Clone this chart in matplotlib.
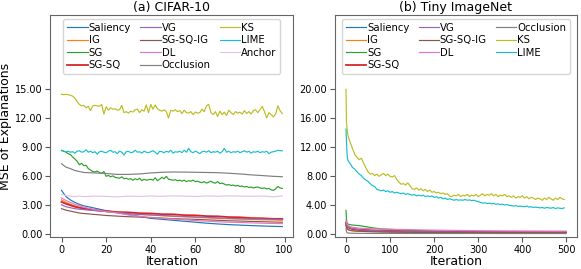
import numpy as np
import matplotlib
matplotlib.use("Agg")
import matplotlib.pyplot as plt

# ---------------- CIFAR-10 ----------------
it_c = np.arange(100)
it_c_s = [0, 2, 4, 6, 8, 10, 15, 20, 25, 30, 35, 40, 45, 50, 55, 60, 65, 70, 75, 80, 85, 90, 95, 99]

c_saliency = [4.55, 3.9, 3.55, 3.3, 3.1, 2.95, 2.7, 2.45, 2.25, 2.05, 1.85, 1.65, 1.55, 1.45, 1.35, 1.25,
              1.15, 1.07, 1.0, 0.95, 0.9, 0.86, 0.82, 0.8]
c_ig = [3.55, 3.3, 3.1, 2.95, 2.8, 2.7, 2.5, 2.35, 2.25, 2.15, 2.05, 2.0, 1.92, 1.85, 1.8, 1.75,
        1.7, 1.65, 1.6, 1.57, 1.53, 1.5, 1.48, 1.45]
c_sgsq = [3.35, 3.15, 3.0, 2.85, 2.75, 2.65, 2.5, 2.4, 2.3, 2.27, 2.18, 2.16, 2.08, 2.07, 1.98, 1.96,
          1.88, 1.86, 1.78, 1.76, 1.68, 1.66, 1.6, 1.6]
c_vg = [3.05, 2.85, 2.75, 2.65, 2.6, 2.55, 2.45, 2.35, 2.25, 2.15, 2.05, 2.0, 1.95, 1.9, 1.85, 1.8,
        1.75, 1.7, 1.65, 1.62, 1.6, 1.58, 1.55, 1.52]
c_sgsqig = [2.65, 2.5, 2.4, 2.3, 2.2, 2.15, 2.05, 1.95, 1.88, 1.82, 1.78, 1.72, 1.68, 1.62, 1.58, 1.55,
            1.5, 1.45, 1.4, 1.37, 1.33, 1.3, 1.27, 1.25]
c_dl = [3.75, 3.5, 3.3, 3.1, 2.95, 2.8, 2.55, 2.35, 2.2, 2.0, 1.85, 1.75, 1.65, 1.58, 1.5, 1.42,
        1.36, 1.3, 1.25, 1.22, 1.18, 1.15, 1.12, 1.1]
c_occlusion = [7.3, 6.95, 6.8, 6.6, 6.5, 6.4, 6.35, 6.3, 6.2, 6.2, 6.25, 6.35, 6.42, 6.45, 6.44, 6.42,
               6.4, 6.38, 6.32, 6.25, 6.15, 6.08, 6.0, 5.96]
c_anchor = [4.15, 4.0, 3.95, 3.9, 3.95, 3.9, 3.95, 3.92, 3.88, 3.95, 3.92, 3.97, 3.93, 3.98, 3.95, 3.92,
            3.97, 3.94, 3.98, 3.95, 3.93, 3.96, 3.88, 3.97]

c_sg = [8.7, 8.6, 8.5, 8.35, 8.25, 8.0, 7.8, 7.55, 7.2, 7.35,
        7.1, 7.15, 6.8, 6.65, 6.5, 6.45, 6.55, 6.4, 6.3, 6.5,
        6.0, 6.1, 5.95, 6.05, 5.9, 5.85, 5.8, 5.95, 5.75, 5.8,
        5.7, 5.75, 5.6, 5.75, 5.65, 5.8, 5.55, 5.7, 5.6, 5.65,
        5.7, 5.6, 5.85, 5.55, 5.7, 5.9, 5.75, 6.0, 5.7, 5.65,
        5.6, 5.65, 5.55, 5.6, 5.5, 5.6, 5.45, 5.55, 5.5, 5.6,
        5.45, 5.5, 5.4, 5.35, 5.45, 5.3, 5.4, 5.5, 5.35, 5.3,
        5.45, 5.25, 5.3, 5.2, 5.1, 5.15, 5.05, 5.1, 5.0, 5.05,
        4.95, 5.0, 4.9, 4.95, 4.85, 4.9, 4.8, 4.85, 4.9, 4.8,
        4.75, 4.8, 4.7, 4.75, 4.6, 4.55, 4.7, 4.95, 4.8, 4.75]
c_lime = [8.65, 8.6, 8.55, 8.6, 8.5, 8.55, 8.4, 8.6, 8.65, 8.5,
          8.55, 8.75, 8.5, 8.6, 8.45, 8.55, 8.3, 8.55, 8.6, 8.5,
          8.45, 8.6, 8.7, 8.5, 8.55, 8.35, 8.6, 8.5, 8.2, 8.55,
          8.6, 8.45, 8.5, 8.7, 8.5, 8.55, 8.4, 8.6, 8.5, 8.45,
          8.55, 8.65, 8.5, 8.3, 8.6, 8.55, 8.45, 8.6, 8.5, 8.7,
          8.4, 8.55, 8.5, 8.6, 8.45, 8.7, 8.5, 8.9, 8.55, 8.45,
          8.6, 8.5, 8.35, 8.55, 8.6, 8.5, 8.65, 8.45, 8.55, 8.5,
          8.6, 8.4, 8.55, 8.9, 8.5, 8.6, 8.45, 8.55, 8.5, 8.6,
          8.45, 8.55, 8.65, 8.5, 8.6, 8.4, 8.55, 8.5, 8.6, 8.45,
          8.55, 8.5, 8.6, 8.35, 8.5, 8.55, 8.6, 8.7, 8.65, 8.65]
c_ks = [14.5, 14.45, 14.5, 14.45, 14.4, 14.3, 14.1, 13.75, 13.45, 13.3,
        13.35, 13.1, 13.25, 12.8, 13.3, 13.35, 13.3, 13.25, 13.45, 12.45,
        13.2, 12.85, 13.1, 12.95, 13.0, 12.85, 12.9, 13.35, 12.6, 12.7,
        12.55, 12.75, 12.65, 12.9, 12.95, 12.6, 12.9, 12.75, 13.4, 12.6,
        13.45, 12.95, 13.4, 13.0, 12.85, 12.75, 12.9, 12.7, 12.05, 12.85,
        12.75, 12.9, 12.7, 12.8, 12.5, 12.85, 12.6, 12.55, 12.7, 12.4,
        12.65, 12.55, 12.6, 12.95, 12.7, 13.3, 13.45, 12.6, 12.4, 12.7,
        12.2, 12.75, 12.4, 12.65, 12.3, 12.85, 12.6, 12.4, 12.7, 12.55,
        12.65, 12.45, 12.8, 12.5, 12.7, 12.45, 12.8, 12.9, 12.6, 12.9,
        13.25, 12.7, 12.05, 12.6, 12.4, 12.15, 12.45, 13.3, 12.8, 12.5]

# ---------------- Tiny ImageNet ----------------
it_t = np.concatenate([np.arange(0, 5), np.arange(5, 500, 5)])
it_t_s = [0, 1, 2, 3, 5, 8, 12, 20, 30, 45, 60, 80, 100, 130, 160, 200, 250, 300, 350, 400, 450, 499]

t_saliency = [1.7, 1.4, 1.2, 1.1, 0.95, 0.85, 0.75, 0.65, 0.55, 0.48, 0.42, 0.38, 0.35, 0.32, 0.3,
              0.28, 0.26, 0.25, 0.24, 0.23, 0.22, 0.22]
t_ig = [1.3, 1.0, 0.8, 0.7, 0.6, 0.55, 0.5, 0.45, 0.42, 0.4, 0.38, 0.36, 0.35, 0.33, 0.32,
        0.3, 0.29, 0.28, 0.27, 0.26, 0.26, 0.25]
t_sg = [3.3, 2.2, 1.7, 1.5, 1.4, 1.35, 1.3, 1.25, 1.2, 1.05, 0.9, 0.75, 0.68, 0.6, 0.52,
        0.45, 0.38, 0.33, 0.3, 0.28, 0.26, 0.25]
t_sgsq = [1.5, 1.3, 1.15, 1.05, 0.95, 0.88, 0.8, 0.72, 0.65, 0.6, 0.55, 0.5, 0.47, 0.43, 0.4,
          0.37, 0.34, 0.32, 0.31, 0.3, 0.29, 0.29]
t_vg = [1.6, 1.35, 1.2, 1.1, 1.0, 0.9, 0.82, 0.72, 0.65, 0.58, 0.53, 0.48, 0.45, 0.41, 0.38,
        0.35, 0.33, 0.31, 0.3, 0.29, 0.28, 0.28]
t_sgsqig = [1.2, 1.0, 0.85, 0.75, 0.65, 0.58, 0.52, 0.46, 0.42, 0.38, 0.35, 0.32, 0.3, 0.28, 0.27,
            0.26, 0.25, 0.24, 0.23, 0.23, 0.22, 0.22]
t_dl = [2.0, 1.7, 1.5, 1.35, 1.2, 1.1, 1.0, 0.92, 0.85, 0.8, 0.75, 0.72, 0.7, 0.66, 0.62,
        0.58, 0.54, 0.5, 0.48, 0.46, 0.45, 0.44]
t_occlusion = [0.8, 0.4, 0.25, 0.2, 0.18, 0.16, 0.15, 0.14, 0.13, 0.13, 0.12, 0.12, 0.12, 0.12, 0.11,
               0.11, 0.11, 0.11, 0.1, 0.1, 0.1, 0.1]

t_ks = [20.0, 15.5, 14.8, 14.2, 13.8,
        13.5, 12.6, 11.8, 11.0, 10.6, 10.3, 10.5, 9.8, 9.2, 8.6,
        8.3, 8.4, 8.1, 8.3, 8.0, 8.2, 8.4, 8.1, 8.3, 8.0,
        7.9, 8.1, 7.6, 7.2, 6.9, 7.0, 6.8, 7.1, 6.7, 6.3,
        6.2, 6.4, 6.1, 6.3, 6.0, 6.2, 5.9, 6.1, 5.8, 5.9,
        5.7, 5.8, 5.6, 5.7, 5.5, 5.6, 5.3, 5.2, 5.4, 5.3,
        5.5, 5.2, 5.4, 5.3, 5.5, 5.2, 5.4, 5.3, 5.5, 5.2,
        5.4, 5.6, 5.3, 5.5, 5.4, 5.6, 5.3, 5.5, 5.2, 5.4,
        5.3, 5.5, 5.2, 5.3, 5.1, 5.3, 5.0, 5.2, 5.1, 5.3,
        5.0, 5.2, 4.9, 5.1, 5.0, 4.8, 5.0, 4.9, 4.7, 5.0,
        4.8, 5.1, 4.9, 4.7, 5.0, 4.8, 5.1, 4.9, 4.8]
t_lime = [14.5, 13.0, 11.5, 10.6, 10.3,
          10.1, 9.7, 9.2, 9.0, 8.6, 8.3, 8.1, 7.7, 7.5, 7.3,
          7.0, 6.7, 6.6, 6.2, 6.1, 6.0, 6.1, 5.9, 6.0, 5.8,
          5.9, 5.7, 5.8, 5.7, 5.6, 5.7, 5.5, 5.6, 5.5, 5.4,
          5.5, 5.3, 5.4, 5.3, 5.4, 5.2, 5.3, 5.2, 5.3, 5.1,
          5.2, 5.0, 5.1, 4.9, 5.0, 4.8, 4.9, 4.8, 4.7, 4.8,
          4.7, 4.75, 4.7, 4.8, 4.7, 4.75, 4.65, 4.7, 4.6, 4.5,
          4.4, 4.3, 4.35, 4.25, 4.3, 4.2, 4.25, 4.15, 4.2, 4.1,
          4.15, 4.05, 4.1, 4.0, 3.95, 3.9, 3.95, 3.85, 3.9, 3.85,
          3.8, 3.9, 3.75, 3.8, 3.7, 3.75, 3.7, 3.65, 3.7, 3.6,
          3.7, 3.65, 3.6, 3.7, 3.55, 3.65, 3.6, 3.55, 3.65]

colors = {
    "Saliency": "tab:blue", "IG": "tab:orange", "SG": "tab:green", "SG-SQ": "tab:red",
    "VG": "tab:purple", "SG-SQ-IG": "tab:brown", "DL": "tab:pink", "Occlusion": "tab:gray",
    "KS": "tab:olive", "LIME": "tab:cyan", "Anchor": "#e2c4e4",
}

cifar = [
    ("Saliency", it_c_s, c_saliency), ("IG", it_c_s, c_ig), ("SG", it_c, c_sg),
    ("SG-SQ", it_c_s, c_sgsq), ("VG", it_c_s, c_vg), ("SG-SQ-IG", it_c_s, c_sgsqig),
    ("DL", it_c_s, c_dl), ("Occlusion", it_c_s, c_occlusion), ("KS", it_c, c_ks),
    ("LIME", it_c, c_lime), ("Anchor", it_c_s, c_anchor),
]
tiny = [
    ("Saliency", it_t_s, t_saliency), ("IG", it_t_s, t_ig), ("SG", it_t_s, t_sg),
    ("SG-SQ", it_t_s, t_sgsq), ("VG", it_t_s, t_vg), ("SG-SQ-IG", it_t_s, t_sgsqig),
    ("DL", it_t_s, t_dl), ("Occlusion", it_t_s, t_occlusion), ("KS", it_t, t_ks),
    ("LIME", it_t, t_lime),
]

fig = plt.figure(figsize=(5.81, 2.69), dpi=100)
ax1 = fig.add_axes([0.0869, 0.119, 0.418, 0.825])
ax2 = fig.add_axes([0.5766, 0.119, 0.4165, 0.825])


def draw(ax, series, title, xlim, ylim, yticks):
    for name, x, y in series:
        lw = 1.3 if name == "SG-SQ" else 0.85
        ax.plot(x, y, color=colors[name], lw=lw, label=name)
    ax.set_xlim(*xlim)
    ax.set_ylim(*ylim)
    ax.set_yticks(yticks)
    ax.yaxis.set_major_formatter(matplotlib.ticker.FormatStrFormatter("%.2f"))
    ax.set_title(title, fontsize=9, pad=3)
    ax.set_xlabel("Iteration", fontsize=9, labelpad=0)
    ax.tick_params(labelsize=7, length=3.5, width=0.8, pad=2, color="0.35")
    for s in ax.spines.values():
        s.set_color("0.4")
        s.set_linewidth(0.8)
    ax.legend(loc="upper center", ncol=3, fontsize=7.3, handlelength=2.0,
              handletextpad=0.1, columnspacing=0.9, labelspacing=0.25,
              borderpad=0.4, borderaxespad=0.35, frameon=True)


draw(ax1, cifar, "(a) CIFAR-10", (-4.95, 103.95), (-0.28, 22.7), [0, 3, 6, 9, 12, 15])
draw(ax2, tiny, "(b) Tiny ImageNet", (-24.95, 523.95), (-0.37, 30.25), [0, 4, 8, 12, 16, 20])
ax1.set_xticks([0, 20, 40, 60, 80, 100])
ax2.set_xticks([0, 100, 200, 300, 400, 500])
ax1.set_ylabel("MSE of Explanations", fontsize=9, labelpad=2)

fig.savefig("out.png", dpi=100)
